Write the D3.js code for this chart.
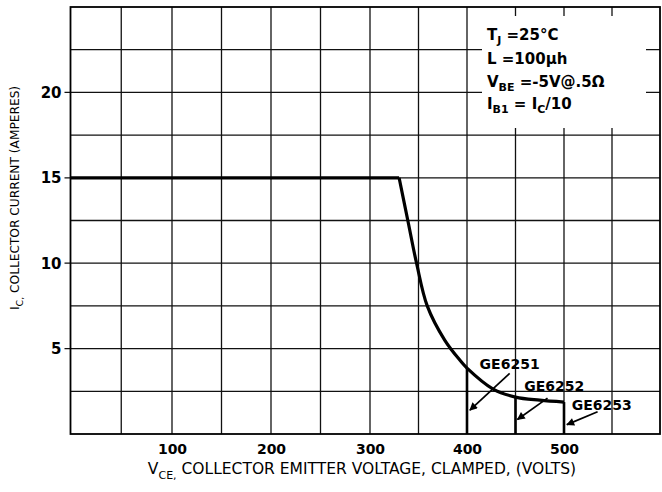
<!DOCTYPE html>
<html>
<head>
<meta charset="utf-8">
<script src="https://cdn.jsdelivr.net/npm/d3@7"></script>
<style>
  html, body { margin: 0; padding: 0; background: #fff; }
  svg { display: block; }
  text { font-family: "DejaVu Sans", "Liberation Sans", sans-serif; fill: #000; }
</style>
</head>
<body>
<svg id="chart" width="662" height="492"></svg>
<script>
// ---- data ----
const xTicks = [100, 200, 300, 400, 500];
const yTicks = [5, 10, 15, 20];
const xGrid = [50, 100, 150, 200, 250, 300, 350, 400, 450, 500, 550];
const yGrid = [2.5, 5, 7.5, 10, 12.5, 15, 17.5, 20, 22.5];
// Reverse-bias safe operating area boundary
const flatV = [0, 330];
const flatI = [15, 15];
const decayV = [330, 339, 348, 359, 377, 393, 400, 427, 450, 475, 500];
const decayI = [15, 12.5, 10, 7.5, 5.5, 4.3, 3.86, 2.63, 2.16, 1.98, 1.87];
// device cut-off voltages
const devices = ["GE6251", "GE6252", "GE6253"];
const deviceV = [400, 450, 500];
const deviceI = [3.86, 2.16, 1.87];
// label anchors and arrows (data units)
const labelV = [413, 459, 508];
const labelI = [3.8, 2.5, 1.4];
const arrowFromV = [444, 483, 535];
const arrowFromI = [3.55, 2.1, 1.3];
const arrowToV = [403, 452, 503];
const arrowToI = [1.4, 0.85, 0.55];

// ---- scales ----
const svg = d3.select("#chart");
const x = d3.scaleLinear().domain([0, 100, 300, 500, 600]).range([70.5, 172, 370, 564, 660]);
const y = d3.scaleLinear().domain([0, 25]).range([434, 7]);
const X0 = x(0), X1 = x(600), Y0 = y(0), Y1 = y(25);

// grid
const g = svg.append("g");
g.selectAll(".vg").data(xGrid).join("line")
  .attr("x1", d => x(d)).attr("x2", d => x(d))
  .attr("y1", Y1).attr("y2", Y0)
  .attr("stroke", "#111").attr("stroke-width", 1.3);
g.selectAll(".hg").data(yGrid).join("line")
  .attr("x1", d => yTicks.includes(d) ? X0 - 6 : X0).attr("x2", X1)
  .attr("y1", d => y(d)).attr("y2", d => y(d))
  .attr("stroke", "#111").attr("stroke-width", 1.3);

// frame
svg.append("rect").attr("x", X0).attr("y", Y1).attr("width", X1 - X0).attr("height", Y0 - Y1)
  .attr("fill", "none").attr("stroke", "#000").attr("stroke-width", 1.8);

// white box behind conditions
svg.append("rect").attr("x", 482).attr("y", 16).attr("width", 164).attr("height", 112).attr("fill", "#fff");

// axes labels
const xAxis = d3.axisBottom(x).tickValues(xTicks).tickSize(0).tickPadding(10).tickFormat(d3.format("d"));
const ax = svg.append("g").attr("transform", `translate(0,${Y0})`).call(xAxis);
ax.select(".domain").remove();
ax.selectAll("text").attr("font-size", 14).attr("font-weight", "bold")
  .attr("font-family", "DejaVu Sans, sans-serif").attr("fill", "#000");

const yAxis = d3.axisLeft(y).tickValues(yTicks).tickSize(0).tickPadding(9).tickFormat(d3.format("d"));
const ay = svg.append("g").attr("transform", `translate(${X0},0)`).call(yAxis);
ay.select(".domain").remove();
ay.selectAll("text").attr("font-size", 15).attr("font-weight", "bold")
  .attr("font-family", "DejaVu Sans, sans-serif").attr("fill", "#000");

// curve
const flatLine = d3.line().x(d => x(d[0])).y(d => y(d[1]));
const decayLine = d3.line().x(d => x(d[0])).y(d => y(d[1])).curve(d3.curveCatmullRom.alpha(0.5));
svg.append("path").datum(flatV.map((v, i) => [v, flatI[i]]))
  .attr("d", flatLine).attr("fill", "none").attr("stroke", "#000").attr("stroke-width", 3.2);
svg.append("path").datum(decayV.map((v, i) => [v, decayI[i]]))
  .attr("d", decayLine).attr("fill", "none").attr("stroke", "#000")
  .attr("stroke-width", 3.2).attr("stroke-linejoin", "round");

// device cut-off verticals
svg.selectAll(".dv").data(deviceV).join("line")
  .attr("x1", d => x(d)).attr("x2", d => x(d))
  .attr("y1", (d, i) => y(deviceI[i])).attr("y2", Y0)
  .attr("stroke", "#000").attr("stroke-width", 2.6);

// arrowhead
svg.append("defs").append("marker").attr("id", "ah")
  .attr("viewBox", "0 0 10 10").attr("refX", 9).attr("refY", 5)
  .attr("markerWidth", 11).attr("markerHeight", 8).attr("markerUnits", "userSpaceOnUse")
  .attr("orient", "auto")
  .append("path").attr("d", "M0,0 L10,5 L0,10 Z").attr("fill", "#000");

svg.selectAll(".ar").data(devices).join("line")
  .attr("x1", (d, i) => x(arrowFromV[i])).attr("y1", (d, i) => y(arrowFromI[i]))
  .attr("x2", (d, i) => x(arrowToV[i])).attr("y2", (d, i) => y(arrowToI[i]))
  .attr("stroke", "#000").attr("stroke-width", 1.7).attr("marker-end", "url(#ah)");

svg.selectAll(".dl").data(devices).join("text")
  .attr("x", (d, i) => x(labelV[i])).attr("y", (d, i) => y(labelI[i]))
  .attr("font-size", 14).attr("font-weight", "bold").text(d => d);

// conditions block
const cond = svg.append("g").attr("font-weight", "bold");
const lines = [
  [["T", 0], ["J", 1], [" =25°C", 0]],
  [["L =100µh", 0]],
  [["V", 0], ["BE", 1], [" =-5V@.5Ω", 0]],
  [["I", 0], ["B1", 1], [" = I", 0], ["C", 1], ["/10", 0]]
];
const baselines = [40, 64, 87, 109];
lines.forEach((parts, li) => {
  const t = cond.append("text").attr("x", 487).attr("y", baselines[li]);
  parts.forEach(([s, sub]) => {
    t.append("tspan").text(s)
      .attr("font-size", sub ? 11 : 15)
      .attr("baseline-shift", sub ? "-4" : null);
  });
});

// axis titles
const xt = svg.append("text").attr("x", 362).attr("y", 474).attr("text-anchor", "middle")
  .attr("font-size", 15.5);
xt.append("tspan").text("V");
xt.append("tspan").text("CE,").attr("font-size", 11).attr("baseline-shift", "-5");
xt.append("tspan").text(" COLLECTOR EMITTER VOLTAGE, CLAMPED, (VOLTS)");

const yt = svg.append("text").attr("transform", "translate(19,198) rotate(-90)")
  .attr("text-anchor", "middle").attr("font-size", 12.2);
yt.append("tspan").text("I");
yt.append("tspan").text("C,").attr("font-size", 9.5).attr("baseline-shift", "-4");
yt.append("tspan").text(" COLLECTOR CURRENT (AMPERES)");
</script>
</body>
</html>
